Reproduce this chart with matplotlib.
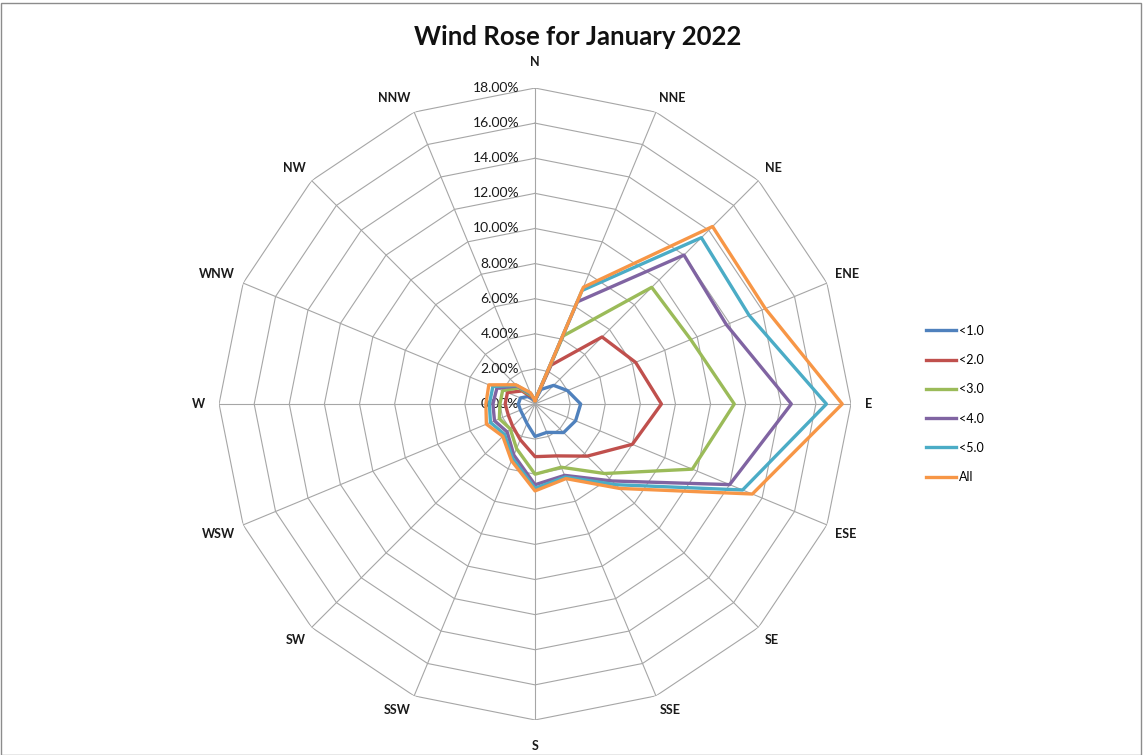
import matplotlib
matplotlib.use('Agg')
import numpy as np
import matplotlib.pyplot as plt
from matplotlib.patches import Rectangle

plt.rcParams['font.family'] = ['Lato', 'DejaVu Sans']

# wind directions, clockwise from north
directions = ['N', 'NNE', 'NE', 'ENE', 'E', 'ESE', 'SE', 'SSE',
              'S', 'SSW', 'SW', 'WSW', 'W', 'WNW', 'NW', 'NNW']

# frequency (%) per direction for each speed class
lt_1 = [0.2, 0.9, 1.5, 2.0, 2.6, 2.5, 2.3, 1.75, 1.85, 1.2, 0.95, 0.9, 0.95, 0.9, 0.6, 0.3]
lt_2 = [0.2, 2.4, 5.4, 6.2, 7.2, 6.0, 4.2, 3.2, 3.0, 2.2, 1.8, 1.65, 1.7, 1.7, 1.05, 0.4]
lt_3 = [0.2, 4.2, 9.4, 9.6, 11.35, 9.7, 5.6, 3.9, 4.0, 2.75, 2.0, 2.2, 2.0, 2.0, 1.3, 0.5]
lt_4 = [0.2, 6.3, 12.0, 11.8, 14.6, 12.0, 6.2, 4.4, 4.6, 3.15, 2.25, 2.5, 2.4, 2.35, 1.45, 0.6]
lt_5 = [0.2, 7.0, 13.4, 13.2, 16.6, 12.8, 6.5, 4.5, 4.8, 3.35, 2.45, 2.75, 2.6, 2.6, 1.5, 0.65]
all_speeds = [0.2, 7.2, 14.3, 14.2, 17.5, 13.4, 6.8, 4.6, 4.95, 3.5, 2.6, 3.0, 2.8, 2.85, 1.55, 0.7]

series_names = ['<1.0', '<2.0', '<3.0', '<4.0', '<5.0', 'All']
series_colors = ['#4F81BD', '#C0504D', '#9BBB59', '#8064A2', '#4BACC6', '#F79646']

ring_values = np.arange(0, 18.01, 2)

fig = plt.figure(figsize=(11.43, 7.55), dpi=100)
fig.patches.append(Rectangle((0.001, 0.0), 0.997, 0.996, transform=fig.transFigure,
                             fill=False, edgecolor='#8C8C8C', linewidth=1.0))

ax = fig.add_axes([0.1916, 0.0464, 0.553, 0.837], projection='polar')
ax.set_theta_zero_location('N')
ax.set_theta_direction(-1)
ax.set_ylim(0, 18)
ax.grid(False)
ax.spines['polar'].set_visible(False)
ax.set_xticks([])
ax.set_yticks([])

theta = np.linspace(0, 2 * np.pi, len(directions), endpoint=False)
theta_closed = np.append(theta, theta[0])

# polygon grid rings and spokes
grid_color = '#A6A6A6'
for r in ring_values[1:]:
    ax.plot(theta_closed, np.full(len(theta_closed), r), color=grid_color, lw=0.8, zorder=1)
for t in theta:
    ax.plot([t, t], [0, 18], color=grid_color, lw=0.8, zorder=1)

# radial value labels along the N spoke
for r in ring_values:
    ax.annotate(f'{r:.2f}%', xy=(0, r), xytext=(-16, 0), textcoords='offset pixels',
                ha='right', va='center', fontsize=10, color='#1A1A1A', zorder=2)

# direction labels, anchored just outside the outer ring
for t, name in zip(theta, directions):
    s, c = np.sin(t), np.cos(t)
    if abs(s) < 0.1:
        d = 20
    elif abs(c) < 0.1:
        d = 14
    else:
        d = 9
    ha = 'left' if s > 0.1 else ('right' if s < -0.1 else 'center')
    va = 'bottom' if c > 0.1 else ('top' if c < -0.1 else 'center')
    ax.annotate(name, xy=(t, 18), xytext=(d * s, d * c), textcoords='offset pixels',
                ha=ha, va=va, fontsize=9, fontweight='bold', color='#1A1A1A')

all_series = [lt_1, lt_2, lt_3, lt_4, lt_5, all_speeds]
for vals, name, color in zip(all_series, series_names, series_colors):
    v = np.append(vals, vals[0])
    ax.plot(theta_closed, v, color=color, lw=2.4, label=name, zorder=3)

fig.text(0.505, 0.951, 'Wind Rose for January 2022', ha='center', va='center',
         fontsize=18.5, fontweight='bold', color='#111111')

fig.legend(loc='center left', bbox_to_anchor=(0.800, 0.465), frameon=False,
           fontsize=9, handlelength=2.4, handletextpad=0.3, labelspacing=1.38)

fig.savefig('out.png', dpi=100)
